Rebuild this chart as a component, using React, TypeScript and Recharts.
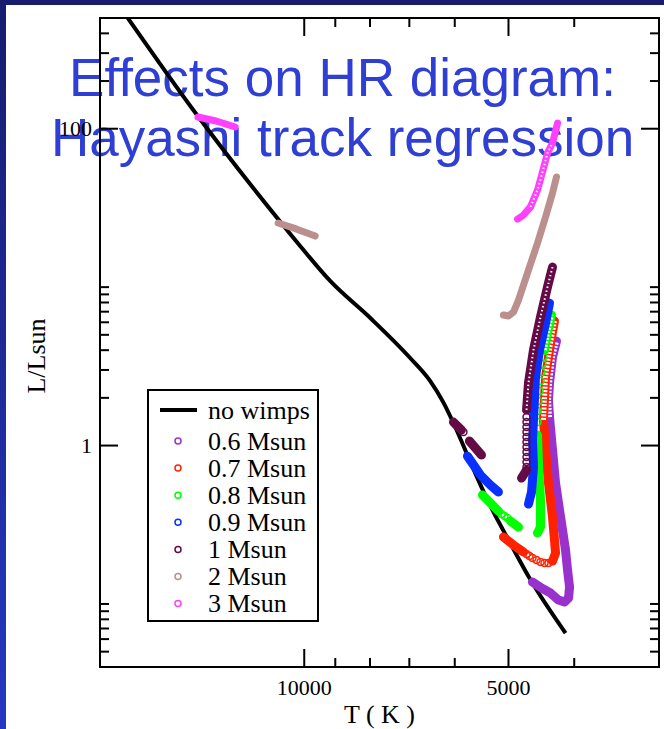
import { ScatterChart, Scatter, XAxis, YAxis, ReferenceArea, Legend } from "recharts";

type Pt = { T: number; L: number };

// axis ticks
const X_MAJOR = [10000, 5000];
const X_MINOR = [9000, 8000, 7000, 6000, 4000];
const Y_MAJOR = [1, 100];
const Y_MINOR = [0.05, 0.06, 0.07, 0.08, 0.09, 0.1, 2, 3, 4, 5, 6, 7, 8, 9, 10, 200, 300, 400];

// main sequence without wimps
const NO_WIMPS: Pt[] = [
  { T: 18200, L: 500 }, { T: 14390, L: 122 }, { T: 11890, L: 42.2 }, { T: 10140, L: 18.2 },
  { T: 9150, L: 10.9 }, { T: 7990, L: 6.38 }, { T: 6980, L: 3.57 }, { T: 6520, L: 2.55 },
  { T: 6240, L: 1.88 }, { T: 5990, L: 1.31 }, { T: 5690, L: 0.787 }, { T: 5370, L: 0.453 },
  { T: 4970, L: 0.242 }, { T: 4640, L: 0.142 }, { T: 4120, L: 0.0655 },
];

// 0.6 Msun
const M06_TRACK: Pt[] = [
  { T: 4609, L: 0.1375 }, { T: 4470, L: 0.126 }, { T: 4335, L: 0.1172 }, { T: 4219, L: 0.1058 },
  { T: 4134, L: 0.1028 }, { T: 4078, L: 0.109 }, { T: 4064, L: 0.1278 }, { T: 4092, L: 0.1637 },
  { T: 4120, L: 0.219 }, { T: 4190, L: 0.354 }, { T: 4262, L: 0.58 }, { T: 4306, L: 0.937 },
  { T: 4350, L: 1.51 },
];
const M06_UPPER: Pt[] = [
  { T: 4350, L: 1.51 }, { T: 4365, L: 1.94 }, { T: 4350, L: 2.48 }, { T: 4306, L: 3.62 }, { T: 4248, L: 4.57 },
];

// 0.7 Msun
const M07_ZAMS: Pt[] = [{ T: 5086, L: 0.2645 }, { T: 4916, L: 0.2353 }, { T: 4752, L: 0.2127 }];
const M07_GAP: Pt[] = [
  { T: 4703, L: 0.2065 }, { T: 4656, L: 0.2006 }, { T: 4609, L: 0.1949 }, { T: 4546, L: 0.1892 },
  { T: 4485, L: 0.1838 }, { T: 4425, L: 0.1812 }, { T: 4365, L: 0.1812 },
];
const M07_TRACK: Pt[] = [
  { T: 4306, L: 0.1865 }, { T: 4262, L: 0.2096 }, { T: 4277, L: 0.2531 }, { T: 4306, L: 0.354 },
  { T: 4365, L: 0.58 }, { T: 4409, L: 0.937 }, { T: 4440, L: 1.45 },
];
const M07_UPPER: Pt[] = [{ T: 4440, L: 1.45 }, { T: 4409, L: 2.71 }, { T: 4335, L: 4.44 }, { T: 4277, L: 6.11 }];

// 0.8 Msun
const M08_ZAMS_A: Pt[] = [{ T: 5462, L: 0.487 }, { T: 5315, L: 0.4334 }, { T: 5173, L: 0.3859 }];
const M08_ZAMS_GAP: Pt[] = [{ T: 5120, L: 0.3694 }, { T: 5068, L: 0.3588 }, { T: 5017, L: 0.3485 }];
const M08_ZAMS_B: Pt[] = [{ T: 4966, L: 0.3337 }, { T: 4833, L: 0.3058 }];
const M08_TRACK: Pt[] = [
  { T: 4531, L: 0.2804 }, { T: 4485, L: 0.3058 }, { T: 4485, L: 0.453 }, { T: 4516, L: 0.753 }, { T: 4531, L: 1.165 },
];
const M08_GAP: Pt[] = [
  { T: 4531, L: 1.407 }, { T: 4531, L: 1.651 }, { T: 4516, L: 1.91 }, { T: 4500, L: 2.208 },
  { T: 4485, L: 2.554 }, { T: 4470, L: 2.911 }, { T: 4455, L: 3.27 }, { T: 4440, L: 3.62 },
];
const M08_UPPER: Pt[] = [{ T: 4425, L: 4.01 }, { T: 4380, L: 5.13 }, { T: 4321, L: 6.67 }];

// 0.9 Msun
const M09_ZAMS: Pt[] = [{ T: 5747, L: 0.858 }, { T: 5499, L: 0.651 }, { T: 5315, L: 0.563 }, { T: 5173, L: 0.509 }];
const M09_TRACK: Pt[] = [
  { T: 4672, L: 0.427 }, { T: 4624, L: 0.509 }, { T: 4593, L: 0.732 }, { T: 4609, L: 1.083 },
  { T: 4593, L: 1.448 }, { T: 4562, L: 2.707 }, { T: 4500, L: 4.008 }, { T: 4409, L: 5.935 }, { T: 4350, L: 7.936 },
];

// 1 Msun
const M10_ZAMS_A: Pt[] = [{ T: 6027, L: 1.407 }, { T: 5866, L: 1.253 }];
const M10_ZAMS_B: Pt[] = [{ T: 5709, L: 1.068 }, { T: 5480, L: 0.871 }];
const M10_GAP: Pt[] = [
  { T: 5826, L: 1.217 },
  { T: 4703, L: 1.513 }, { T: 4703, L: 1.407 }, { T: 4703, L: 1.309 }, { T: 4703, L: 1.217 },
  { T: 4703, L: 1.131 }, { T: 4703, L: 1.052 }, { T: 4703, L: 0.978 }, { T: 4703, L: 0.91 },
  { T: 4703, L: 0.846 }, { T: 4703, L: 0.787 }, { T: 4703, L: 0.732 },
];
const M10_HOOK: Pt[] = [{ T: 4784, L: 0.623 }, { T: 4703, L: 0.7 }];
const M10_UPPER: Pt[] = [
  { T: 4703, L: 1.676 }, { T: 4672, L: 2.481 }, { T: 4593, L: 4.008 }, { T: 4485, L: 6.475 },
  { T: 4380, L: 10.01 }, { T: 4306, L: 13.39 },
];

// 2 Msun
const M20_ZAMS: Pt[] = [{ T: 10925, L: 25.4 }, { T: 10277, L: 23.3 }, { T: 9636, L: 21.0 }];
const M20_TRACK: Pt[] = [
  { T: 5086, L: 6.67 }, { T: 5000, L: 6.57 }, { T: 4916, L: 6.96 }, { T: 4833, L: 8.29 },
  { T: 4688, L: 12.27 }, { T: 4531, L: 18.98 }, { T: 4409, L: 27.7 }, { T: 4306, L: 39.3 }, { T: 4248, L: 49.6 },
];

// 3 Msun
const M30_ZAMS: Pt[] = [{ T: 14340, L: 118.6 }, { T: 13490, L: 111.9 }, { T: 12640, L: 102.5 }];
const M30_HOOK: Pt[] = [{ T: 4849, L: 26.9 }, { T: 4752, L: 28.5 }, { T: 4640, L: 32.1 }];
const M30_MID: Pt[] = [
  { T: 4640, L: 32.1 }, { T: 4531, L: 41.0 }, { T: 4455, L: 53.3 }, { T: 4380, L: 70.2 }, { T: 4306, L: 81.2 },
];
const M30_TOP: Pt[] = [{ T: 4306, L: 81.2 }, { T: 4233, L: 108.6 }];

type Group = {
  name: string;
  color: string;
  width: number;
  solid: Pt[][];
  hollow: Pt[][];
  loose: Pt[];
  hole: { w: number; dash: string };
};

const LADDER = { w: 5, dash: "2 1.5" };
const DOTS = { w: 2, dash: "1.5 2.5" };

const GROUPS: Group[] = [
  { name: "0.6 Msun", color: "#9932cc", width: 9, solid: [M06_TRACK], hollow: [M06_UPPER], loose: [], hole: LADDER },
  { name: "0.7 Msun", color: "#ff2200", width: 9, solid: [M07_ZAMS, M07_TRACK], hollow: [M07_UPPER], loose: M07_GAP, hole: LADDER },
  { name: "0.8 Msun", color: "#00ff00", width: 9, solid: [M08_ZAMS_A, M08_ZAMS_B, M08_TRACK], hollow: [M08_UPPER], loose: [...M08_ZAMS_GAP, ...M08_GAP], hole: LADDER },
  { name: "0.9 Msun", color: "#0a30ff", width: 9, solid: [M09_ZAMS, M09_TRACK], hollow: [], loose: [], hole: DOTS },
  { name: "1 Msun", color: "#640a46", width: 9, solid: [M10_ZAMS_A, M10_ZAMS_B, M10_HOOK], hollow: [M10_UPPER], loose: M10_GAP, hole: DOTS },
  { name: "2 Msun", color: "#bc8f8f", width: 7, solid: [M20_ZAMS, M20_TRACK], hollow: [], loose: [], hole: DOTS },
  { name: "3 Msun", color: "#ff40ff", width: 7, solid: [M30_ZAMS, M30_HOOK, M30_TOP], hollow: [M30_MID], loose: [], hole: DOTS },
];

const PLOT = { left: 100, right: 659, top: 18, bottom: 667 };
const SERIF = "'Liberation Serif', 'Times New Roman', serif";
const TITLE_COLOR = "#2f3fd4";

const NoDot = () => <g />;

function XTick(props: any) {
  const { x, y, payload } = props;
  const major = X_MAJOR.includes(payload.value);
  const len = major ? 18 : 9;
  return (
    <g>
      <line x1={x} y1={y} x2={x} y2={y - len} stroke="#000" strokeWidth={2} />
      <line x1={x} y1={PLOT.top} x2={x} y2={PLOT.top + len} stroke="#000" strokeWidth={2} />
      {major && (
        <text x={x} y={y + 28} textAnchor="middle" fontFamily={SERIF} fontSize={22} fill="#000">
          {payload.value}
        </text>
      )}
    </g>
  );
}

function YTick(props: any) {
  const { x, y, payload } = props;
  const major = Y_MAJOR.includes(payload.value);
  const len = major ? 18 : 9;
  return (
    <g>
      <line x1={x} y1={y} x2={x + len} y2={y} stroke="#000" strokeWidth={2} />
      <line x1={PLOT.right} y1={y} x2={PLOT.right - len} y2={y} stroke="#000" strokeWidth={2} />
      {major && (
        <text x={x - 8} y={y} dy="0.33em" textAnchor="end" fontFamily={SERIF} fontSize={22} fill="#000">
          {payload.value}
        </text>
      )}
    </g>
  );
}

const XTitle = () => (
  <text x={(PLOT.left + PLOT.right) / 2} y={723} textAnchor="middle" fontFamily={SERIF} fontSize={26} fill="#000">
    T ( K )
  </text>
);

const YTitle = () => (
  <text transform="translate(45,356) rotate(-90)" textAnchor="middle" fontFamily={SERIF} fontSize={26} fill="#000">
    L/Lsun
  </text>
);

function LegendBox() {
  return (
    <svg width={172} height={233} style={{ display: "block" }}>
      <rect x={1} y={1} width={170} height={231} fill="#fff" stroke="#000" strokeWidth={2} />
      <line x1={13} y1={21} x2={50} y2={21} stroke="#000" strokeWidth={4} />
      <text x={61} y={21} dy="0.33em" fontFamily={SERIF} fontSize={26} fill="#000">
        no wimps
      </text>
      {GROUPS.map((g, i) => {
        const cy = 52 + i * 27.1;
        return (
          <g key={g.name}>
            <circle cx={31} cy={cy} r={3} fill="none" stroke={g.color} strokeWidth={1.5} />
            <text x={61} y={cy} dy="0.33em" fontFamily={SERIF} fontSize={26} fill="#000">
              {g.name}
            </text>
          </g>
        );
      })}
    </svg>
  );
}

export default function App() {
  return (
    <div style={{ position: "absolute", left: 0, top: 0, width: 664, height: 729, background: "#fff", overflow: "hidden" }}>
      <div
        style={{
          position: "absolute",
          left: 0,
          top: 48,
          width: 685,
          textAlign: "center",
          fontFamily: "'Liberation Sans', Arial, sans-serif",
          fontSize: 53,
          lineHeight: "60px",
          color: TITLE_COLOR,
          whiteSpace: "nowrap",
        }}
      >
        Effects on HR diagram:
        <br />
        Hayashi track regression
      </div>

      <div style={{ position: "absolute", left: 0, top: 0 }}>
        <ScatterChart width={664} height={729} margin={{ top: 18, right: 5, bottom: 0, left: 0 }}>
          <XAxis
            type="number"
            dataKey="T"
            scale="log"
            domain={[3000, 20000]}
            reversed
            allowDataOverflow
            ticks={[...X_MAJOR, ...X_MINOR]}
            interval={0}
            tickSize={0}
            tickMargin={0}
            axisLine={false}
            tickLine={false}
            tick={XTick}
            height={62}
            label={XTitle}
          />
          <YAxis
            type="number"
            dataKey="L"
            scale="log"
            domain={[0.04, 500]}
            allowDataOverflow
            ticks={[...Y_MAJOR, ...Y_MINOR]}
            interval={0}
            tickSize={0}
            tickMargin={0}
            axisLine={false}
            tickLine={false}
            tick={YTick}
            width={100}
            label={YTitle}
          />
          <ReferenceArea x1={20000} x2={3000} y1={0.04} y2={500} fill="none" stroke="#000" strokeWidth={2} ifOverflow="visible" />

          <Scatter
            name="no wimps"
            data={NO_WIMPS}
            line={{ stroke: "#000", strokeWidth: 4 }}
            lineJointType="monotoneX"
            shape={NoDot}
            isAnimationActive={false}
          />

          {GROUPS.flatMap((g, gi) => [
            ...[...g.solid, ...g.hollow].map((d, i) => (
              <Scatter
                key={`s${gi}-${i}`}
                data={d}
                line={{ stroke: g.color, strokeWidth: g.width, strokeLinecap: "round", strokeLinejoin: "round" }}
                shape={NoDot}
                isAnimationActive={false}
                legendType="none"
              />
            )),
            ...g.hollow.map((d, i) => (
              <Scatter
                key={`h${gi}-${i}`}
                data={d}
                line={{ stroke: "#fff", strokeWidth: g.hole.w, strokeDasharray: g.hole.dash }}
                shape={NoDot}
                isAnimationActive={false}
                legendType="none"
              />
            )),
            <Scatter
              key={`l${gi}`}
              data={g.loose}
              shape={(p: any) => <circle cx={p.cx} cy={p.cy} r={3.5} fill="none" stroke={g.color} strokeWidth={1.5} />}
              isAnimationActive={false}
              legendType="none"
            />,
          ])}

          <Legend
            layout="horizontal"
            verticalAlign="middle"
            align="center"
            width={172}
            height={233}
            wrapperStyle={{ left: 147, top: 389, width: 172, height: 233 }}
            content={LegendBox}
          />
        </ScatterChart>
      </div>

      <div style={{ position: "absolute", left: 0, top: 0, width: 6, height: 729, background: "linear-gradient(#171c6e, #2638c2)" }} />
      <div style={{ position: "absolute", left: 0, top: 0, width: 664, height: 5, background: "#171c6e" }} />
    </div>
  );
}
